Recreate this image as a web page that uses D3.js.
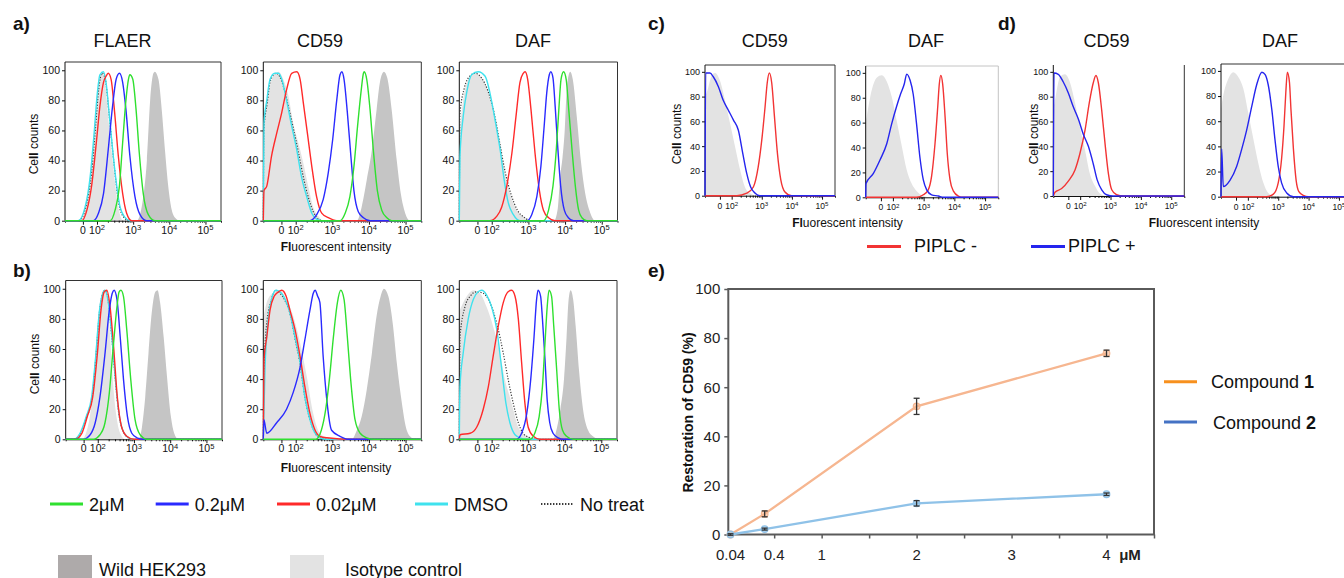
<!DOCTYPE html>
<html>
<head>
<meta charset="utf-8">
<script src="https://cdn.jsdelivr.net/npm/d3@7"></script>
<style>
  body { margin: 0; background: #fff; }
  svg { display: block; }
</style>
</head>
<body>
<svg id="fig" width="1344" height="578"></svg>
<script>
// ---- histogram traces: [log10 intensity, % of max count] ----
// a) HEK293 mutant treated with compound, top row
const histA_FLAER = {
    wild:    [[3.10,0],[3.28,16],[3.38,40],[3.47,80],[3.56,98],[3.60,99],[3.70,94],[3.79,74],[3.88,47],[3.97,23],[4.07,7],[4.16,2],[4.30,0]],
    iso:     [[1.53,0],[1.72,14],[1.85,40],[1.95,69],[2.04,92],[2.13,98],[2.22,92],[2.31,69],[2.45,36],[2.59,9],[2.73,0]],
    noTreat: [[1.50,0],[1.70,10],[1.85,32],[1.96,62],[2.05,88],[2.14,98],[2.23,94],[2.33,72],[2.47,38],[2.60,12],[2.75,2],[2.90,0]],
    dmso:    [[1.48,0],[1.67,9],[1.81,29],[1.92,58],[2.01,85],[2.08,97],[2.18,99],[2.25,92],[2.36,65],[2.50,32],[2.64,9],[2.78,2],[2.91,0]],
    c002:    [[1.58,0],[1.72,7],[1.85,23],[1.99,54],[2.08,76],[2.18,92],[2.25,96],[2.31,98],[2.39,94],[2.48,74],[2.59,43],[2.71,18],[2.82,5],[2.96,0]],
    c02:     [[1.90,0],[2.04,5],[2.18,18],[2.31,47],[2.43,76],[2.53,94],[2.62,98],[2.71,92],[2.80,74],[2.91,43],[3.05,16],[3.19,4],[3.37,0]],
    c2:      [[2.36,0],[2.50,7],[2.62,23],[2.71,52],[2.80,80],[2.87,94],[2.91,97],[2.99,94],[3.08,74],[3.17,45],[3.28,18],[3.42,4],[3.60,0]]
};
const histA_CD59 = {
    wild:    [[3.67,0],[3.80,9],[3.94,27],[4.08,47],[4.21,74],[4.30,92],[4.41,99],[4.50,95],[4.62,74],[4.76,40],[4.87,18],[4.99,5],[5.12,0]],
    iso:     [[1.115,67],[1.25,85],[1.39,96],[1.53,99],[1.66,94],[1.80,83],[1.93,65],[2.07,52],[2.21,38],[2.34,23],[2.48,9],[2.62,3],[2.75,0]],
    noTreat: [[1.115,0],[1.13,60],[1.22,78],[1.31,93],[1.46,98],[1.56,96],[1.68,88],[1.80,76],[1.93,62],[2.07,46],[2.20,30],[2.34,16],[2.48,6],[2.62,1],[2.75,0]],
    dmso:    [[1.115,0],[1.134,65],[1.21,80],[1.30,94],[1.43,98],[1.53,98],[1.62,94],[1.75,80],[1.89,63],[2.03,47],[2.16,29],[2.30,16],[2.44,5],[2.57,1],[2.71,0]],
    c002:    [[1.115,0],[1.134,20],[1.21,23],[1.34,43],[1.48,58],[1.62,72],[1.75,87],[1.89,98],[2.03,99],[2.12,94],[2.21,78],[2.32,58],[2.44,36],[2.57,16],[2.71,5],[2.89,2],[3.12,0]],
    c02:     [[2.39,0],[2.57,4],[2.75,14],[2.89,32],[3.01,54],[3.12,80],[3.21,97],[3.26,99],[3.32,94],[3.41,72],[3.50,45],[3.59,20],[3.71,6],[3.85,2],[4.03,0]],
    c2:      [[3.21,0],[3.35,5],[3.48,16],[3.59,36],[3.69,63],[3.79,87],[3.85,98],[3.87,99],[3.94,94],[4.03,74],[4.12,47],[4.23,20],[4.35,7],[4.49,2],[4.62,0]]
};
const histA_DAF = {
    wild:    [[3.70,0],[3.80,8],[3.87,30],[3.93,42],[3.99,60],[4.04,85],[4.10,97],[4.14,99],[4.21,94],[4.32,69],[4.43,40],[4.55,18],[4.69,5],[4.82,0]],
    iso:     [[1.115,58],[1.22,80],[1.36,94],[1.54,98],[1.73,95],[1.91,85],[2.09,69],[2.23,52],[2.36,32],[2.50,18],[2.68,7],[2.86,3],[3.05,0]],
    noTreat: [[1.115,0],[1.13,70],[1.25,88],[1.40,96],[1.55,98],[1.72,95],[1.90,86],[2.08,70],[2.23,50],[2.37,32],[2.52,18],[2.70,7],[2.90,2],[3.05,0]],
    dmso:    [[1.115,0],[1.134,43],[1.22,69],[1.33,87],[1.45,97],[1.63,99],[1.82,96],[1.95,85],[2.09,67],[2.23,47],[2.34,27],[2.45,12],[2.59,4],[2.77,0]],
    c002:    [[1.95,0],[2.14,3],[2.27,9],[2.41,23],[2.55,45],[2.66,69],[2.77,92],[2.86,98],[2.91,99],[2.98,94],[3.07,74],[3.18,45],[3.30,20],[3.41,7],[3.55,2],[3.73,0]],
    c02:     [[2.96,0],[3.09,4],[3.23,16],[3.34,36],[3.43,63],[3.50,85],[3.57,97],[3.61,99],[3.67,95],[3.73,76],[3.80,49],[3.88,23],[3.98,7],[4.09,2],[4.23,0]],
    c2:      [[3.41,0],[3.55,7],[3.67,23],[3.76,47],[3.83,74],[3.89,94],[3.96,99],[4.03,94],[4.10,74],[4.19,47],[4.28,23],[4.37,7],[4.46,2],[4.59,0]]
};
// b) bottom row
const histB_FLAER = {
    wild:    [[3.12,0],[3.22,8],[3.31,28],[3.40,57],[3.49,84],[3.59,98],[3.65,99],[3.72,91],[3.82,68],[3.91,42],[4.02,15],[4.11,4],[4.23,0]],
    iso:     [[1.56,0],[1.70,6],[1.83,24],[1.97,68],[2.06,91],[2.16,99],[2.25,95],[2.34,68],[2.43,35],[2.53,13],[2.64,3],[2.76,0]],
    noTreat: [[1.33,0],[1.52,4],[1.68,14],[1.84,27],[1.96,58],[2.05,85],[2.14,97],[2.20,99],[2.30,90],[2.39,67],[2.48,41],[2.57,19],[2.69,6],[2.85,1],[3.00,0]],
    dmso:    [[1.33,0],[1.51,4],[1.68,15],[1.83,28],[1.95,57],[2.04,84],[2.14,97],[2.20,99],[2.29,91],[2.39,68],[2.48,42],[2.57,20],[2.69,6],[2.85,1],[2.99,0]],
    c002:    [[1.37,0],[1.56,4],[1.71,15],[1.86,28],[1.99,57],[2.09,86],[2.18,98],[2.25,99],[2.34,88],[2.43,64],[2.54,28],[2.66,8],[2.80,2],[2.99,0]],
    c02:     [[1.60,0],[1.79,3],[1.93,11],[2.06,28],[2.20,57],[2.32,86],[2.40,97],[2.45,99],[2.53,93],[2.62,68],[2.71,40],[2.82,15],[2.94,4],[3.08,1],[3.26,0]],
    c2:      [[1.88,0],[2.06,3],[2.20,11],[2.32,31],[2.43,62],[2.53,88],[2.59,98],[2.64,99],[2.71,95],[2.80,73],[2.91,40],[3.03,13],[3.17,3],[3.36,0]]
};
const histB_CD59 = {
    wild:    [[3.53,0],[3.67,6],[3.80,15],[3.94,33],[4.08,57],[4.21,82],[4.32,95],[4.41,100],[4.53,95],[4.65,77],[4.76,51],[4.90,24],[5.01,8],[5.12,2],[5.26,0]],
    iso:     [[1.115,80],[1.21,91],[1.37,97],[1.57,99],[1.75,93],[1.93,82],[2.12,64],[2.30,42],[2.48,17],[2.66,4],[2.85,1],[3.02,0]],
    noTreat: [[1.115,0],[1.13,40],[1.20,75],[1.34,93],[1.46,99],[1.57,97],[1.71,92],[1.85,83],[1.98,67],[2.12,50],[2.25,28],[2.39,13],[2.53,4],[2.66,1],[2.85,0]],
    dmso:    [[1.115,0],[1.16,46],[1.25,80],[1.34,93],[1.46,99],[1.57,98],[1.71,93],[1.84,84],[1.98,68],[2.12,51],[2.25,28],[2.39,13],[2.53,4],[2.66,1],[2.85,0]],
    c002:    [[1.115,0],[1.134,53],[1.21,68],[1.30,86],[1.41,95],[1.53,98],[1.62,99],[1.74,95],[1.84,86],[1.98,73],[2.12,55],[2.25,35],[2.39,17],[2.53,6],[2.66,2],[2.85,1],[3.55,0]],
    c02:     [[1.115,0],[1.13,13],[1.21,4],[1.48,11],[1.75,20],[1.93,31],[2.12,48],[2.25,66],[2.39,86],[2.48,97],[2.53,99],[2.60,95],[2.66,91],[2.75,55],[2.85,26],[2.98,6],[3.21,2],[3.45,0]],
    c2:      [[2.55,0],[2.70,6],[2.82,20],[2.92,40],[3.03,68],[3.14,91],[3.23,99],[3.32,93],[3.41,68],[3.50,40],[3.62,13],[3.76,4],[3.94,1],[4.12,0]]
};
const histB_DAF = {
    wild:    [[3.68,0],[3.79,8],[3.88,20],[3.98,40],[4.05,68],[4.10,91],[4.16,99],[4.23,93],[4.30,75],[4.39,46],[4.50,20],[4.64,6],[4.77,2],[4.96,0]],
    iso:     [[1.115,85],[1.32,95],[1.50,99],[1.68,97],[1.86,88],[2.04,75],[2.23,57],[2.36,40],[2.50,28],[2.59,20],[2.73,8],[2.91,3],[3.14,1],[3.32,0]],
    noTreat: [[1.115,0],[1.134,68],[1.27,88],[1.41,95],[1.59,98],[1.77,97],[1.95,91],[2.14,77],[2.32,57],[2.45,40],[2.59,24],[2.73,11],[2.86,4],[3.05,1],[3.23,0]],
    dmso:    [[1.115,0],[1.134,35],[1.22,57],[1.36,80],[1.50,93],[1.63,98],[1.73,99],[1.86,96],[2.00,88],[2.14,73],[2.27,48],[2.39,24],[2.50,11],[2.64,3],[2.77,1],[2.96,0]],
    c002:    [[1.115,0],[1.134,3],[1.41,4],[1.59,8],[1.77,20],[1.91,35],[2.04,55],[2.18,75],[2.32,91],[2.45,98],[2.55,99],[2.64,95],[2.73,80],[2.82,51],[2.91,24],[3.00,8],[3.14,2],[3.32,0]],
    c02:     [[2.68,0],[2.82,4],[2.96,17],[3.07,40],[3.16,68],[3.23,93],[3.27,99],[3.34,95],[3.39,80],[3.46,53],[3.52,26],[3.59,11],[3.68,4],[3.82,1],[3.96,0]],
    c2:      [[3.05,0],[3.18,4],[3.30,15],[3.39,35],[3.46,64],[3.52,88],[3.57,99],[3.64,95],[3.70,75],[3.78,46],[3.85,20],[3.94,6],[4.05,2],[4.23,0]]
};
// c) / d) PI-PLC treatment
const histC_CD59 = {
    iso:   [[1.115,80],[1.17,83],[1.34,97],[1.45,99],[1.61,93],[1.78,77],[1.95,58],[2.11,40],[2.28,21],[2.44,7],[2.61,2],[2.83,0]],
    minus: [[1.115,0],[2.17,0],[2.50,2],[2.72,7],[2.88,23],[3.00,45],[3.11,72],[3.18,91],[3.25,99],[3.33,91],[3.42,64],[3.52,34],[3.63,13],[3.77,3],[3.99,0]],
    plus:  [[1.115,0],[1.137,99],[1.28,99],[1.39,96],[1.56,88],[1.72,77],[1.89,69],[2.06,61],[2.22,53],[2.37,34],[2.50,18],[2.63,7],[2.78,2],[2.94,0]]
};
const histC_DAF = {
    iso:   [[1.115,60],[1.15,65],[1.31,86],[1.47,96],[1.64,98],[1.80,93],[1.96,81],[2.12,62],[2.29,41],[2.45,22],[2.61,11],[2.77,5],[2.99,1],[3.21,0]],
    minus: [[1.115,0],[2.77,0],[2.99,2],[3.15,6],[3.26,17],[3.37,43],[3.46,73],[3.51,91],[3.56,98],[3.62,91],[3.70,64],[3.77,35],[3.86,14],[3.97,5],[4.13,1],[4.29,0]],
    plus:  [[1.115,0],[1.125,11],[1.36,19],[1.58,30],[1.80,43],[1.96,59],[2.12,73],[2.25,83],[2.37,91],[2.45,99],[2.56,94],[2.66,83],[2.77,59],[2.88,32],[2.99,14],[3.10,6],[3.26,2],[3.48,1],[3.64,0]]
};
const histD_CD59 = {
    iso:   [[1.115,70],[1.17,77],[1.34,96],[1.50,98],[1.67,91],[1.83,75],[1.99,56],[2.16,37],[2.32,18],[2.49,8],[2.65,2],[2.87,0]],
    minus: [[1.115,0],[1.17,3],[1.39,6],[1.61,12],[1.83,21],[1.99,34],[2.16,53],[2.30,75],[2.43,91],[2.52,97],[2.60,91],[2.71,69],[2.82,42],[2.93,18],[3.04,5],[3.20,1],[3.42,0]],
    plus:  [[1.115,0],[1.138,99],[1.28,98],[1.44,92],[1.61,83],[1.77,72],[1.94,62],[2.10,50],[2.27,40],[2.43,26],[2.56,13],[2.71,5],[2.87,1],[3.09,0]]
};
const histD_DAF = {
    iso:   [[1.115,70],[1.17,78],[1.36,94],[1.52,99],[1.69,95],[1.85,86],[2.01,67],[2.18,46],[2.34,27],[2.51,11],[2.67,3],[2.89,0]],
    minus: [[1.115,0],[2.62,0],[2.84,2],[3.00,11],[3.11,30],[3.19,56],[3.25,83],[3.30,99],[3.37,91],[3.42,69],[3.50,38],[3.59,13],[3.68,4],[3.83,1],[3.99,0]],
    plus:  [[1.115,0],[1.137,38],[1.19,8],[1.41,13],[1.63,24],[1.80,38],[1.96,53],[2.13,72],[2.29,89],[2.46,99],[2.57,97],[2.67,89],[2.79,69],[2.89,46],[3.00,24],[3.11,11],[3.28,3],[3.50,0]]
};

// axis labels of the flow panels
const yTicks = [0, 20, 40, 60, 80, 100];
const xTickDecades = [2, 3, 4, 5];
const doseLabels = ['2\u03bcM', '0.2\u03bcM', '0.02\u03bcM', 'DMSO', 'No treat'];
const fillLabels = ['Wild HEK293', 'Isotype control'];
const piplcLabels = ['PIPLC -', 'PIPLC +'];

// e) restoration of CD59
const eDose = [0.04, 0.4, 2, 4];
const eCompound1 = [0, 8.4, 52.2, 73.8];
const eCompound1Err = [0.3, 1.2, 3.3, 1.3];
const eCompound2 = [0, 2.2, 12.7, 16.4];
const eCompound2Err = [0.3, 0.4, 1.1, 0.5];
const eYTicks = [0, 20, 40, 60, 80, 100];
const eXTickMarks = [0.5, 1, 1.5, 2, 2.5, 3, 3.5, 4, 4.5];
const eXTickText = [[0.04, '0.04'], [0.5, '0.4'], [1, '1'], [2, '2'], [3, '3'], [4, '4']];

// ---------------------------------------------------------------------------
const FONT = '"Liberation Sans", Arial, Helvetica, sans-serif';
const U_MIN = 1.115, U_MAX = 5.43, U_ZERO = 1.61;
const Y_MAX = 105.5;

const svg = d3.select('#fig').attr('font-family', FONT);

const doseStyle = {
    fills: [['wild', '#c5c5c5'], ['iso', '#e3e3e3']],
    lines: [['noTreat', '#3a3a3a', '1.2,1.6'], ['dmso', '#3fe2ee'], ['c002', '#ff2a2a'], ['c02', '#2a2aff'], ['c2', '#2fe02f']],
    tickFont: 10.5, xFont: 10.5
};
const piplcStyle = {
    fills: [['iso', '#e3e3e3']],
    lines: [['minus', '#f23434'], ['plus', '#2525ee']],
    tickFont: 9, xFont: 8.5
};

const panels = [
    {id: 'aF', left: 65, right: 221, top: 62, bottom: 220.7, hist: histA_FLAER, st: doseStyle, title: 'FLAER', titleX: 122.5, cell: [38, 144]},
    {id: 'aC', left: 263.3, right: 421.3, top: 62, bottom: 220.7, hist: histA_CD59, st: doseStyle, title: 'CD59', titleX: 320},
    {id: 'aD', left: 459.3, right: 617.5, top: 62, bottom: 220.7, hist: histA_DAF, st: doseStyle, title: 'DAF', titleX: 533},
    {id: 'bF', left: 65.7, right: 222, top: 280.5, bottom: 439.3, hist: histB_FLAER, st: doseStyle, cell: [38.5, 364]},
    {id: 'bC', left: 263.3, right: 421.3, top: 280.5, bottom: 439.3, hist: histB_CD59, st: doseStyle},
    {id: 'bD', left: 459.3, right: 617, top: 280.5, bottom: 439.3, hist: histB_DAF, st: doseStyle},
    {id: 'cC', left: 705, right: 835, top: 65, bottom: 195.7, hist: histC_CD59, st: piplcStyle, title: 'CD59', titleX: 764.7, cell: [680.5, 134]},
    {id: 'cD', left: 865.7, right: 998.3, top: 66, bottom: 197.3, hist: histC_DAF, st: piplcStyle, title: 'DAF', titleX: 926, frame: '#c4c4c4'},
    {id: 'dC', left: 1053.3, right: 1184.3, top: 65, bottom: 196, hist: histD_CD59, st: piplcStyle, title: 'CD59', titleX: 1106.6, cell: [1038, 134], noTop: true},
    {id: 'dD', left: 1221, right: 1352, top: 64, bottom: 196.7, hist: histD_DAF, st: piplcStyle, title: 'DAF', titleX: 1280}
];

// trace continues along zero outside the recorded events
function padTrace(pts) {
    const out = pts.slice();
    if (out[0][0] > U_MIN) out.unshift([U_MIN, 0]);
    if (out[out.length - 1][0] < U_MAX) out.push([U_MAX, 0]);
    return out;
}

function cellCounts(x, y) {
    const t = svg.append('text')
        .attr('transform', `translate(${x},${y}) rotate(-90)`)
        .attr('text-anchor', 'middle')
        .style('font-size', '12px')
        .attr('fill', '#111');
    t.append('tspan').text('Ce');
    t.append('tspan').attr('font-weight', 'bold').text('ll');
    t.append('tspan').text(' counts');
}

function fluorLabel(x, y) {
    const t = svg.append('text')
        .attr('x', x).attr('y', y)
        .attr('text-anchor', 'middle')
        .style('font-size', '12px')
        .attr('fill', '#111');
    t.append('tspan').attr('font-weight', 'bold').text('Fl');
    t.append('tspan').text('uorescent intensity');
}

function drawHist(p) {
    const st = p.st;
    const x = d3.scaleLinear().domain([U_MIN, U_MAX]).range([p.left, p.right]);
    const y = d3.scaleLinear().domain([0, Y_MAX]).range([p.bottom, p.top]);
    const g = svg.append('g');

    g.append('clipPath').attr('id', 'clip-' + p.id)
        .append('rect')
        .attr('x', p.left - 1).attr('y', p.top)
        .attr('width', p.right - p.left + 2).attr('height', p.bottom - p.top + 1.5);

    const area = d3.area()
        .x(d => x(d[0])).y0(p.bottom).y1(d => y(d[1]))
        .curve(d3.curveMonotoneX);
    const line = d3.line()
        .x(d => x(d[0])).y(d => y(d[1]))
        .curve(d3.curveMonotoneX);

    const fillG = g.append('g').attr('clip-path', `url(#clip-${p.id})`);
    st.fills.forEach(([key, col]) => {
        fillG.append('path')
            .datum(padTrace(p.hist[key]))
            .attr('d', area)
            .attr('fill', col);
    });

    // frame
    const fc = p.frame || '#333';
    g.append('line').attr('x1', p.right).attr('x2', p.right).attr('y1', p.top).attr('y2', p.bottom)
        .attr('stroke', fc).attr('stroke-width', 1);
    if (!p.noTop) {
        g.append('line').attr('x1', p.left).attr('x2', p.right).attr('y1', p.top).attr('y2', p.top)
            .attr('stroke', fc).attr('stroke-width', 1);
    }

    // y axis
    const yAx = g.append('g')
        .attr('transform', `translate(${p.left},0)`)
        .call(d3.axisLeft(y).tickValues(yTicks).tickSize(3).tickPadding(2));
    yAx.select('.domain').attr('d', `M0,${p.top}V${p.bottom}`).attr('stroke', '#111');
    yAx.selectAll('text').style('font-size', st.tickFont + 'px').attr('fill', '#111').attr('font-family', FONT);
    yAx.selectAll('.tick line').attr('stroke', '#111');

    // x axis: major + minor log ticks
    const minor = [];
    [2, 3, 4].forEach(n => d3.range(2, 10).forEach(k => minor.push(n + Math.log10(k))));
    const xMin = g.append('g')
        .attr('transform', `translate(0,${p.bottom})`)
        .call(d3.axisBottom(x).tickValues(minor).tickSize(2).tickFormat(''));
    xMin.select('.domain').attr('stroke', '#111');
    const xMaj = g.append('g')
        .attr('transform', `translate(0,${p.bottom})`)
        .call(d3.axisBottom(x).tickValues([U_ZERO].concat(xTickDecades)).tickSize(4).tickFormat(''));
    xMaj.select('.domain').remove();
    g.selectAll('.tick line').attr('stroke', '#111');

    const labY = p.bottom + 13;
    g.append('text')
        .attr('x', x(U_ZERO)).attr('y', labY)
        .attr('text-anchor', 'middle')
        .style('font-size', st.xFont + 'px').attr('fill', '#111')
        .text('0');
    xTickDecades.forEach(n => {
        const t = g.append('text')
            .attr('x', x(n)).attr('y', labY)
            .attr('text-anchor', 'middle')
            .style('font-size', st.xFont + 'px').attr('fill', '#111');
        t.append('tspan').text('10');
        t.append('tspan').attr('dy', '-0.45em').style('font-size', (st.xFont * 0.72) + 'px').text(n);
    });

    // traces drawn over the axes
    const lineG = g.append('g').attr('clip-path', `url(#clip-${p.id})`);
    st.lines.forEach(([key, col, dash]) => {
        lineG.append('path')
            .datum(padTrace(p.hist[key]))
            .attr('d', line)
            .attr('fill', 'none')
            .attr('stroke', col)
            .attr('stroke-width', dash ? 1.2 : 1.4)
            .attr('stroke-dasharray', dash || null)
            .attr('stroke-linejoin', 'round');
    });

    if (p.title) {
        svg.append('text')
            .attr('x', p.titleX).attr('y', 46.5)
            .attr('text-anchor', 'middle')
            .style('font-size', '18px').attr('fill', '#111')
            .text(p.title);
    }
    if (p.cell) cellCounts(p.cell[0], p.cell[1]);
}

panels.forEach(drawHist);

fluorLabel(336, 250.5);
fluorLabel(336, 472);
fluorLabel(847.5, 227);
fluorLabel(1204, 227);

// panel letters
[['a)', 13, 30], ['b)', 13, 277], ['c)', 648, 30], ['d)', 998, 30], ['e)', 648, 277]].forEach(([t, px, py]) => {
    svg.append('text').attr('x', px).attr('y', py)
        .attr('font-weight', 'bold').style('font-size', '19px').attr('fill', '#111')
        .text(t);
});

// legend for a) / b)
const doseLegendX = [50, 155.7, 277, 415, 541];
doseLabels.forEach((lab, i) => {
    const [, col, dash] = doseStyle.lines[[4, 3, 2, 1, 0][i]];
    svg.append('line')
        .attr('x1', doseLegendX[i]).attr('x2', doseLegendX[i] + 33)
        .attr('y1', 504).attr('y2', 504)
        .attr('stroke', col)
        .attr('stroke-width', dash ? 1.8 : 3)
        .attr('stroke-dasharray', dash ? '1.4,1.6' : null);
    svg.append('text')
        .attr('x', doseLegendX[i] + 39).attr('y', 510.5)
        .style('font-size', '18px').attr('fill', '#111')
        .text(lab);
});
const fillLegend = [[58, '#aeaaaa'], [290, '#e3e3e3']];
fillLabels.forEach((lab, i) => {
    svg.append('rect')
        .attr('x', fillLegend[i][0]).attr('y', 555)
        .attr('width', 34).attr('height', 23)
        .attr('fill', fillLegend[i][1]);
    svg.append('text')
        .attr('x', fillLegend[i][0] + (i === 0 ? 41 : 55)).attr('y', 575.5)
        .style('font-size', '18px').attr('fill', '#111')
        .text(lab);
});

// legend for c) / d)
const piplcLegend = [[867, 914, piplcStyle.lines[0][1]], [1031, 1068, piplcStyle.lines[1][1]]];
piplcLabels.forEach((lab, i) => {
    const [lx, tx, col] = piplcLegend[i];
    svg.append('line')
        .attr('x1', lx).attr('x2', lx + 34)
        .attr('y1', 246.5).attr('y2', 246.5)
        .attr('stroke', col).attr('stroke-width', 3.2);
    svg.append('text')
        .attr('x', tx).attr('y', 252)
        .style('font-size', '18px').attr('fill', '#111')
        .text(lab);
});

// ---------------- e) line chart ----------------
const ex = d3.scaleLinear().domain([0.017, 4.5]).range([728.3, 1154]);
const ey = d3.scaleLinear().domain([0, 100]).range([534.5, 289]);
const eG = svg.append('g');

eG.append('rect')
    .attr('x', ex.range()[0]).attr('y', ey(100))
    .attr('width', ex.range()[1] - ex.range()[0])
    .attr('height', ey(0) - ey(100))
    .attr('fill', 'none').attr('stroke', '#5a5a5a').attr('stroke-width', 2);

const eYAx = eG.append('g')
    .attr('transform', `translate(${ex.range()[0]},0)`)
    .call(d3.axisLeft(ey).tickValues(eYTicks).tickSize(4).tickPadding(4));
eYAx.select('.domain').remove();
eYAx.selectAll('.tick line').attr('stroke', '#5a5a5a').attr('stroke-width', 1.5);
eYAx.selectAll('text').style('font-size', '15px').attr('fill', '#222').attr('font-family', FONT);

const eXAx = eG.append('g')
    .attr('transform', `translate(0,${ey(0)})`)
    .call(d3.axisBottom(ex).tickValues(eXTickMarks).tickSize(4).tickFormat(''));
eXAx.select('.domain').remove();
eXAx.selectAll('.tick line').attr('stroke', '#5a5a5a').attr('stroke-width', 1.5);

eXTickText.forEach(([v, t]) => {
    eG.append('text')
        .attr('x', ex(v)).attr('y', 560)
        .attr('text-anchor', 'middle')
        .style('font-size', '15px').attr('fill', '#222')
        .text(t);
});
eG.append('text')
    .attr('x', 1130).attr('y', 560)
    .attr('text-anchor', 'middle')
    .attr('font-weight', 'bold')
    .style('font-size', '15px').attr('fill', '#222')
    .text('\u03bcM');

eG.append('text')
    .attr('transform', `translate(693,412.5) rotate(-90)`)
    .attr('text-anchor', 'middle')
    .attr('font-weight', 'bold')
    .style('font-size', '14px').attr('fill', '#111')
    .text('Restoration of CD59 (%)');

const eSeries = [
    {vals: eCompound1, err: eCompound1Err, line: '#f6b690', legend: '#f7901e', name: '1', ly: 381.7},
    {vals: eCompound2, err: eCompound2Err, line: '#8fc2e8', legend: '#4472c4', name: '2', ly: 422}
];
const eLine = d3.line().x(d => ex(d[0])).y(d => ey(d[1]));

eSeries.forEach(s => {
    const pts = eDose.map((d, i) => [d, s.vals[i], s.err[i]]);
    eG.append('path')
        .datum(pts)
        .attr('d', eLine)
        .attr('fill', 'none')
        .attr('stroke', s.line)
        .attr('stroke-width', 2.3);
    eG.selectAll(null)
        .data(pts)
        .join('circle')
        .attr('cx', d => ex(d[0])).attr('cy', d => ey(d[1]))
        .attr('r', 3.3)
        .attr('fill', s.line).attr('fill-opacity', 0.6)
        .attr('stroke', s.line).attr('stroke-width', 1.2);
    const eb = eG.selectAll(null).data(pts).join('g').attr('stroke', '#333').attr('stroke-width', 1.3);
    eb.append('line')
        .attr('x1', d => ex(d[0])).attr('x2', d => ex(d[0]))
        .attr('y1', d => ey(d[1] - d[2])).attr('y2', d => ey(d[1] + d[2]));
    eb.append('line')
        .attr('x1', d => ex(d[0]) - 3).attr('x2', d => ex(d[0]) + 3)
        .attr('y1', d => ey(d[1] + d[2])).attr('y2', d => ey(d[1] + d[2]));
    eb.append('line')
        .attr('x1', d => ex(d[0]) - 3).attr('x2', d => ex(d[0]) + 3)
        .attr('y1', d => ey(d[1] - d[2])).attr('y2', d => ey(d[1] - d[2]));

    // legend
    svg.append('line')
        .attr('x1', 1164).attr('x2', 1197)
        .attr('y1', s.ly).attr('y2', s.ly)
        .attr('stroke', s.legend).attr('stroke-width', 3);
    const t = svg.append('text')
        .attr('x', s.name === '1' ? 1211 : 1213).attr('y', s.ly + 6.5)
        .style('font-size', '18px').attr('fill', '#111');
    t.append('tspan').text('Compound ');
    t.append('tspan').attr('font-weight', 'bold').text(s.name);
});
</script>
</body>
</html>
